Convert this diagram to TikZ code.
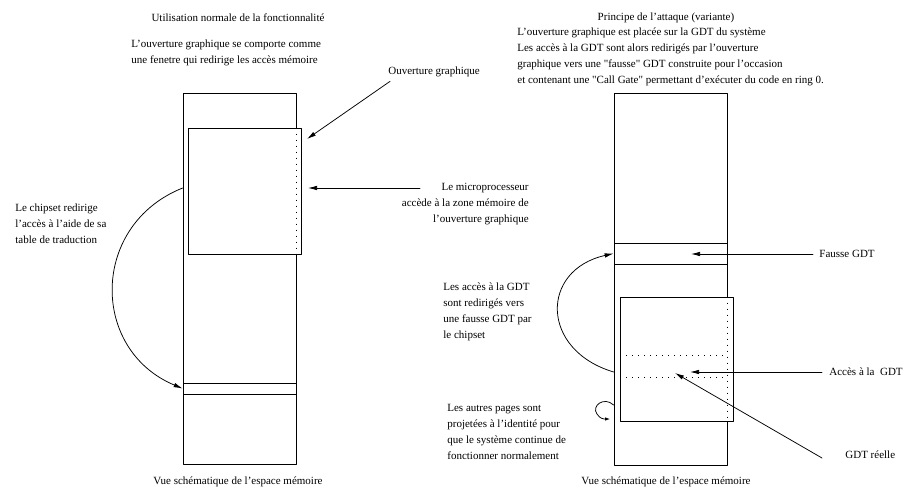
\documentclass[tikz,border=0pt]{standalone}
\usepackage{fontspec}
\setmainfont{Liberation Serif}
\usetikzlibrary{arrows.meta}

\begin{document}
\begin{tikzpicture}[x=1pt, y=-1pt, >={Latex[length=9pt,width=4.5pt]}, line cap=round, line join=round,
	font=\fontsize{11}{16.2}\selectfont, line width=0.75pt,
	txt/.style={inner sep=0pt, align=left},
	zone/.style={draw, inner sep=0pt, minimum width=113pt},
	pointille/.style={line cap=butt, dash pattern=on 1.2pt off 4.8pt}]

\useasboundingbox (0,0) rectangle (910,490);

% ===== Left: normal use =====
\begin{scope}
	\node[txt] (titreL) at (238,18) {Utilisation normale de la fonctionnalité};
	\node[txt, anchor=west] (fenetreL) at (131,53)
	{L'ouverture graphique se comporte comme\\une fenetre qui redirige les accès mémoire};
	
	% memory column, translated page, aperture
	\node[zone, minimum height=371pt] (memL) at (239.5,278.5) {};
	\node[zone, minimum height=11pt] (tableL) at (239.5,388.5) {};
	\node[zone, fill=white, minimum height=126pt] (apL) at (244.5,191) {};
	\draw[pointille] (memL.east |- apL.north) -- (memL.east |- apL.south);
	
	% labels on the right
	\node[txt, anchor=west] (ouvL) at (388,72) {Ouverture graphique};
	\coordinate (ouvB) at (307,139);
	\draw[->] ([xshift=2pt,yshift=-4pt]ouvL.south west) -- (ouvB);
	
	\node[txt, align=right, anchor=east] (microL) at (529,204)
	{Le microprocesseur\\accède à la zone mémoire de\\l'ouverture graphique};
	\coordinate (microA) at (420,188);
	\coordinate (microB) at (308,188);
	\draw[->] (microA) -- (microB);
	
	% chipset redirection
	\node[txt, anchor=west] (chipL) at (15,224)
	{Le chipset redirige\\l'accès à l'aide de sa\\table de traduction};
	\draw[->] (memL.west |- microB) .. controls (90,225) and (90,350) .. (tableL.west);
	
	\node[txt] (vueL) at (238,482) {Vue schématique de l'espace mémoire};
\end{scope}

% ===== Right: the attack =====
\begin{scope}
	\node[txt] (titreR) at (666,18) {Principe de l'attaque (variante)};
	\node[txt, anchor=west] (expliR) at (517,57)
	{L'ouverture graphique est placée sur la GDT du système\\
		Les accès à la GDT sont alors redirigés par l'ouverture\\
		graphique vers une \textquotedbl fausse\textquotedbl\ GDT construite pour l'occasion\\
		et contenant une \textquotedbl Call Gate\textquotedbl\ permettant d'exécuter du code en ring 0.};
	
	% memory column, fake GDT, aperture over the real GDT
	\node[zone, minimum height=372pt] (memR) at (670.5,279) {};
	\node[zone, minimum height=21pt] (fausseR) at (670.5,253.5) {};
	\node[zone, fill=white, minimum height=124pt] (apR) at (676.5,359) {};
	\draw[pointille] (memR.east |- apR.north) -- (memR.east |- apR.south);
	\draw[pointille] (614,355) -- (727,355);
	\draw[pointille] (614,377) -- (727,377);
	
	% labels on the right
	\node[txt, anchor=west] (fausseL) at (819,254) {Fausse GDT};
	\coordinate (fausseB) at (691,254);
	\draw[->] ([xshift=-6pt]fausseL.west) -- (fausseB);
	
	\node[txt, anchor=west] (accesL) at (829,372) {Accès à la~~GDT};
	\coordinate (accesB) at (690,372);
	\draw[->] ([xshift=-7pt]accesL.west) -- (accesB);
	
	\node[txt, anchor=west] (reelleL) at (845,455) {GDT réelle};
	\coordinate (reelleB) at (675,373);
	\draw[->] ([xshift=-23pt,yshift=-3pt]reelleL.west) -- (reelleB);
	
	% chipset redirection
	\node[txt, anchor=west] (chipR) at (443,312)
	{Les accès à la GDT\\sont redirigés vers\\une fausse GDT par\\le chipset};
	\draw[->] (memR.west |- accesB) .. controls (540,350) and (540,270) .. (fausseR.west);
	
	% identity mapping
	\node[txt, anchor=west] (identR) at (447,432)
	{Les autres pages sont\\projetées à l'identité pour\\que le système continue de\\fonctionner normalement};
	\draw[-{Latex[length=5pt,width=3.5pt]}] (memR.west |- 0,405)
	.. controls (604,396) and (591,406) .. (597,414)
	.. controls (600,419) and (604,419) .. (610,419);
	
	\node[txt] (vueR) at (666,482) {Vue schématique de l'espace mémoire};
\end{scope}

\end{tikzpicture}
\end{document}
